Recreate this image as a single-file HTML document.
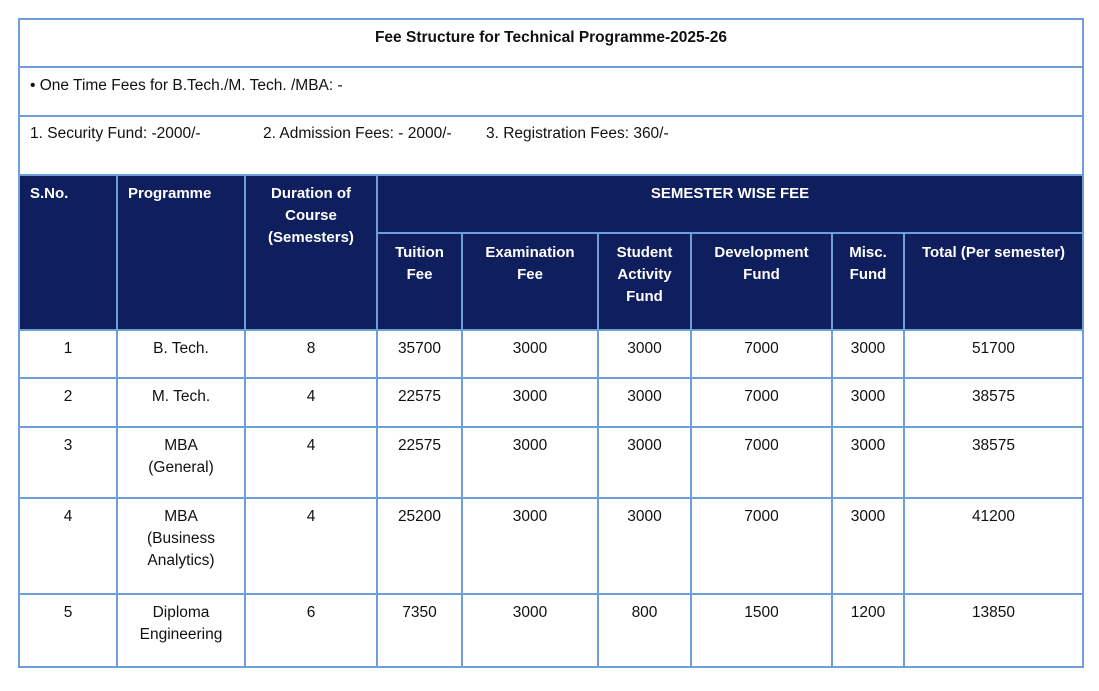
<!DOCTYPE html>
<html><head><meta charset="utf-8"><style>
body{margin:0;width:1099px;height:691px;background:#fff;position:relative;overflow:hidden;font-family:"Liberation Sans",sans-serif;font-size:15.5px;color:#111;}
.h{position:absolute;height:2px;background:#6f9fd8;}
.v{position:absolute;width:2px;background:#6f9fd8;}
.bg{position:absolute;background:#0f1f5e;}
.t{position:absolute;line-height:22px;text-align:center;white-space:nowrap;}
.w{color:#fff;font-weight:bold;font-size:15px;}
</style></head><body>
<div class="bg" style="left:19px;top:175px;width:1064px;height:155px"></div>
<div class="h" style="left:18px;top:18px;width:1066px"></div>
<div class="h" style="left:18px;top:66px;width:1066px"></div>
<div class="h" style="left:18px;top:115px;width:1066px"></div>
<div class="h" style="left:18px;top:174px;width:1066px"></div>
<div class="h" style="left:377px;top:232px;width:707px"></div>
<div class="h" style="left:18px;top:329px;width:1066px"></div>
<div class="h" style="left:18px;top:377px;width:1066px"></div>
<div class="h" style="left:18px;top:426px;width:1066px"></div>
<div class="h" style="left:18px;top:497px;width:1066px"></div>
<div class="h" style="left:18px;top:593px;width:1066px"></div>
<div class="h" style="left:18px;top:666px;width:1066px"></div>
<div class="v" style="left:18px;top:18px;height:650px"></div>
<div class="v" style="left:1082px;top:18px;height:650px"></div>
<div class="v" style="left:116px;top:175px;height:492px"></div>
<div class="v" style="left:244px;top:175px;height:492px"></div>
<div class="v" style="left:376px;top:175px;height:492px"></div>
<div class="v" style="left:461px;top:233px;height:434px"></div>
<div class="v" style="left:597px;top:233px;height:434px"></div>
<div class="v" style="left:690px;top:233px;height:434px"></div>
<div class="v" style="left:831px;top:233px;height:434px"></div>
<div class="v" style="left:903px;top:233px;height:434px"></div>

<div class="t" style="left:19px;width:1064px;top:27px;font-weight:bold">Fee Structure for Technical Programme-2025-26</div>
<div class="t" style="left:30px;top:75px;text-align:left">• One Time Fees for B.Tech./M. Tech. /MBA: -</div>
<div class="t" style="left:30px;top:123px;text-align:left">1. Security Fund: -2000/-</div>
<div class="t" style="left:263px;top:123px;text-align:left">2. Admission Fees: - 2000/-</div>
<div class="t" style="left:486px;top:123px;text-align:left">3. Registration Fees: 360/-</div>

<div class="t w" style="left:30px;top:183px;text-align:left">S.No.</div>
<div class="t w" style="left:128px;top:183px;text-align:left">Programme</div>
<div class="t w" style="left:245px;width:132px;top:183px">Duration of<br>Course<br>(Semesters)</div>
<div class="t w" style="left:377px;width:706px;top:183px">SEMESTER WISE FEE</div>
<div class="t w" style="left:377px;width:85px;top:242px">Tuition<br>Fee</div>
<div class="t w" style="left:462px;width:136px;top:242px">Examination<br>Fee</div>
<div class="t w" style="left:598px;width:93px;top:242px">Student<br>Activity<br>Fund</div>
<div class="t w" style="left:691px;width:141px;top:242px">Development<br>Fund</div>
<div class="t w" style="left:832px;width:72px;top:242px">Misc.<br>Fund</div>
<div class="t w" style="left:904px;width:179px;top:242px">Total (Per semester)</div>

<div class="t" style="left:19px;width:98px;top:338px">1</div>
<div class="t" style="left:117px;width:128px;top:338px">B. Tech.</div>
<div class="t" style="left:245px;width:132px;top:338px">8</div>
<div class="t" style="left:377px;width:85px;top:338px">35700</div>
<div class="t" style="left:462px;width:136px;top:338px">3000</div>
<div class="t" style="left:598px;width:93px;top:338px">3000</div>
<div class="t" style="left:691px;width:141px;top:338px">7000</div>
<div class="t" style="left:832px;width:72px;top:338px">3000</div>
<div class="t" style="left:904px;width:179px;top:338px">51700</div>

<div class="t" style="left:19px;width:98px;top:386px">2</div>
<div class="t" style="left:117px;width:128px;top:386px">M. Tech.</div>
<div class="t" style="left:245px;width:132px;top:386px">4</div>
<div class="t" style="left:377px;width:85px;top:386px">22575</div>
<div class="t" style="left:462px;width:136px;top:386px">3000</div>
<div class="t" style="left:598px;width:93px;top:386px">3000</div>
<div class="t" style="left:691px;width:141px;top:386px">7000</div>
<div class="t" style="left:832px;width:72px;top:386px">3000</div>
<div class="t" style="left:904px;width:179px;top:386px">38575</div>

<div class="t" style="left:19px;width:98px;top:435px">3</div>
<div class="t" style="left:117px;width:128px;top:435px">MBA<br>(General)</div>
<div class="t" style="left:245px;width:132px;top:435px">4</div>
<div class="t" style="left:377px;width:85px;top:435px">22575</div>
<div class="t" style="left:462px;width:136px;top:435px">3000</div>
<div class="t" style="left:598px;width:93px;top:435px">3000</div>
<div class="t" style="left:691px;width:141px;top:435px">7000</div>
<div class="t" style="left:832px;width:72px;top:435px">3000</div>
<div class="t" style="left:904px;width:179px;top:435px">38575</div>

<div class="t" style="left:19px;width:98px;top:506px">4</div>
<div class="t" style="left:117px;width:128px;top:506px">MBA<br>(Business<br>Analytics)</div>
<div class="t" style="left:245px;width:132px;top:506px">4</div>
<div class="t" style="left:377px;width:85px;top:506px">25200</div>
<div class="t" style="left:462px;width:136px;top:506px">3000</div>
<div class="t" style="left:598px;width:93px;top:506px">3000</div>
<div class="t" style="left:691px;width:141px;top:506px">7000</div>
<div class="t" style="left:832px;width:72px;top:506px">3000</div>
<div class="t" style="left:904px;width:179px;top:506px">41200</div>

<div class="t" style="left:19px;width:98px;top:602px">5</div>
<div class="t" style="left:117px;width:128px;top:602px">Diploma<br>Engineering</div>
<div class="t" style="left:245px;width:132px;top:602px">6</div>
<div class="t" style="left:377px;width:85px;top:602px">7350</div>
<div class="t" style="left:462px;width:136px;top:602px">3000</div>
<div class="t" style="left:598px;width:93px;top:602px">800</div>
<div class="t" style="left:691px;width:141px;top:602px">1500</div>
<div class="t" style="left:832px;width:72px;top:602px">1200</div>
<div class="t" style="left:904px;width:179px;top:602px">13850</div>
</body></html>
